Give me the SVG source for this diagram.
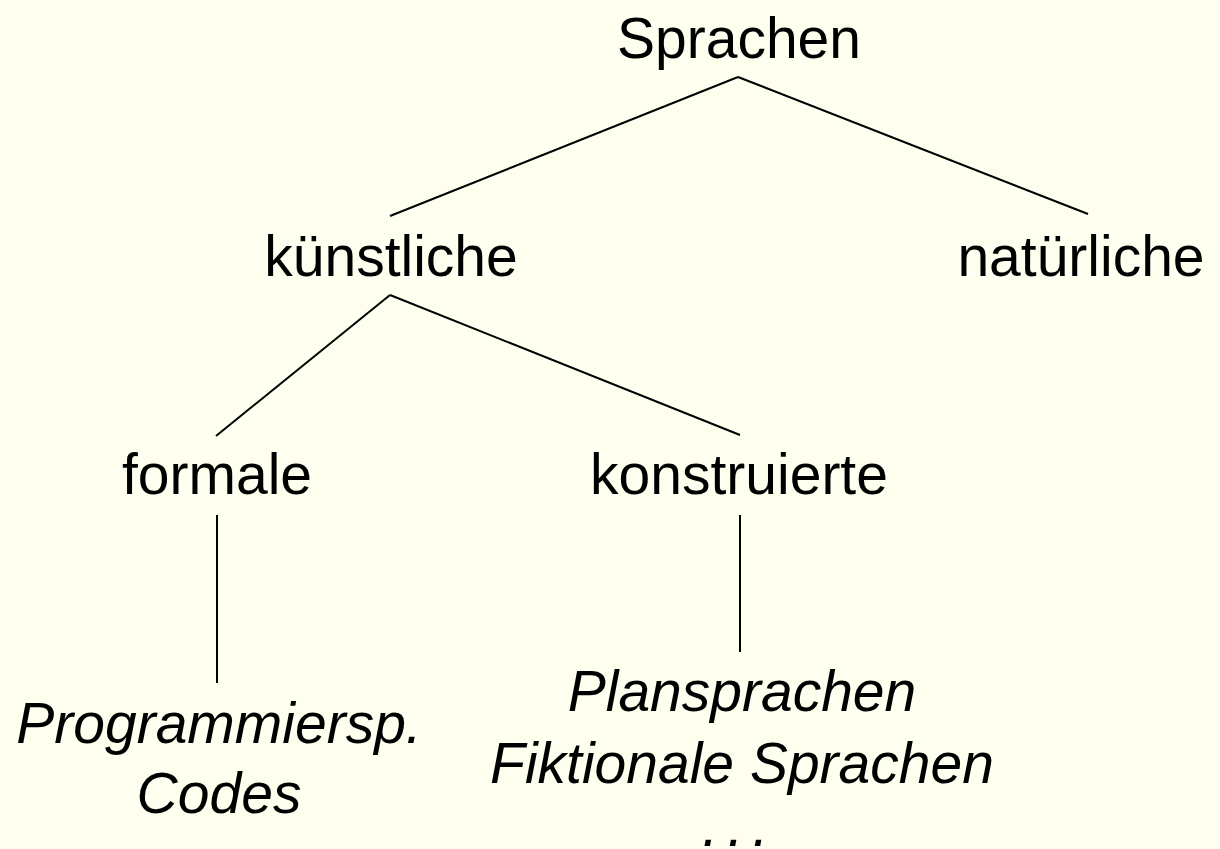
<svg xmlns="http://www.w3.org/2000/svg" width="1220" height="849" viewBox="0 0 1220 849">
  <style>
    .lbl { font-family: "Liberation Sans", Arial, sans-serif; font-size: 57px; fill: #000; text-anchor: middle; }
    .it { font-style: italic; }
    .edge { stroke: #000; stroke-width: 2; fill: none; }
  </style>
  <rect width="1220" height="849" fill="#FFFFF0"/>

  <g id="connectors">
    <line class="edge" x1="738" y1="77" x2="390" y2="216"/>
    <line class="edge" x1="738" y1="77" x2="1088" y2="214"/>
    <line class="edge" x1="390" y1="295" x2="216" y2="436"/>
    <line class="edge" x1="390" y1="295" x2="740" y2="435"/>
    <line class="edge" x1="217" y1="515" x2="217" y2="683"/>
    <line class="edge" x1="740" y1="515" x2="740" y2="652"/>
  </g>

  <g id="sprachen"><text class="lbl" x="739" y="58">Sprachen</text></g>
  <g id="kuenstliche"><text class="lbl" x="391" y="276">künstliche</text></g>
  <g id="natuerliche"><text class="lbl" x="1081" y="276">natürliche</text></g>
  <g id="formale"><text class="lbl" x="217" y="494">formale</text></g>
  <g id="konstruierte"><text class="lbl" x="739" y="494">konstruierte</text></g>
  <g id="formale-beispiele">
    <text class="lbl it" x="219" y="743">Programmiersp.</text>
    <text class="lbl it" x="219" y="813">Codes</text>
  </g>
  <g id="konstruierte-beispiele">
    <text class="lbl it" x="742" y="711">Plansprachen</text>
    <text class="lbl it" x="742" y="783">Fiktionale Sprachen</text>
    <text class="lbl it" x="740" y="846" letter-spacing="9.4">...</text>
  </g>
</svg>
